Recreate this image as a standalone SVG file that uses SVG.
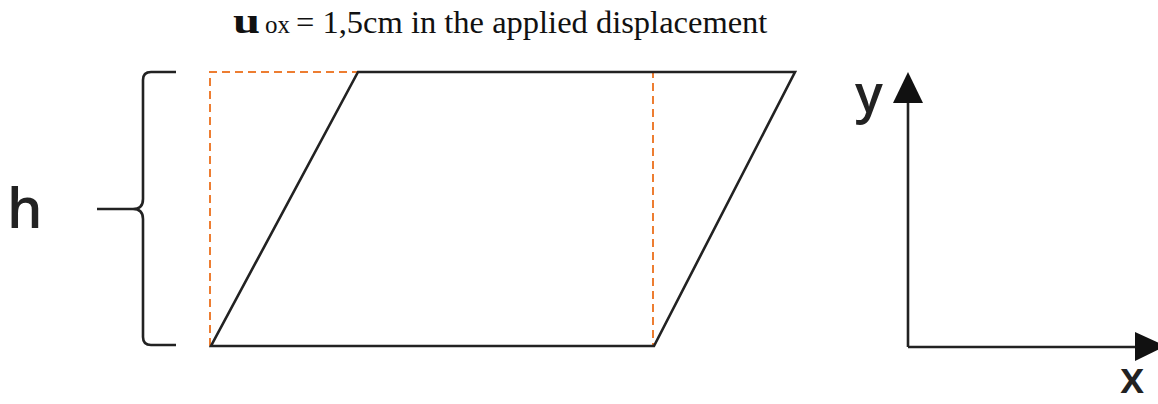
<svg xmlns="http://www.w3.org/2000/svg" width="1158" height="404" viewBox="0 0 1158 404">
<defs>
<style>
.ln{fill:none;stroke:#222;stroke-width:2.6;stroke-linejoin:miter}
.dash{fill:none;stroke:#ED7D31;stroke-width:2;stroke-dasharray:8 5}
.lbl{font-family:"Open Sans","Liberation Sans",Arial,sans-serif;font-weight:600;fill:#222}
.ttl{font-family:"Liberation Serif","Times New Roman",serif;fill:#111}
</style>
</defs>
<rect width="1158" height="404" fill="#fff"/>
<g id="title">
<text class="ttl" x="0" y="0" font-size="36" font-weight="bold" transform="translate(233,33) scale(1.35,1)">u</text>
<text class="ttl" x="265" y="33" font-size="25">ox</text>
<text class="ttl" x="296" y="33" font-size="32.5">= 1,5cm in the applied displacement</text>
</g>
<g id="original">
<polyline class="dash" points="210,346 210,72 653,72 653,346"/>
</g>
<g id="deformed">
<polygon class="ln" points="211,346 654,346 795,72 358,72"/>
</g>
<g id="bracket">
<path class="ln" d="M176,72 H151 Q143,72 143,80 V199 Q143,209 133,209 Q143,209 143,219 V337 Q143,345 151,345 H176 M97,209 H135"/>
<text class="lbl" x="7" y="228" font-size="56">h</text>
</g>
<g id="axes">
<path d="M908,347 V100" class="ln"/>
<path d="M908,347 H1140" class="ln"/>
<polygon points="908,72 893,103 923,103" fill="#111"/>
<polygon points="1166,346 1135,332 1135,361" fill="#111"/>
<text class="lbl" x="1120" y="393" font-size="44">x</text>
<text class="lbl" x="855" y="112" font-size="52">y</text>
</g>
</svg>
